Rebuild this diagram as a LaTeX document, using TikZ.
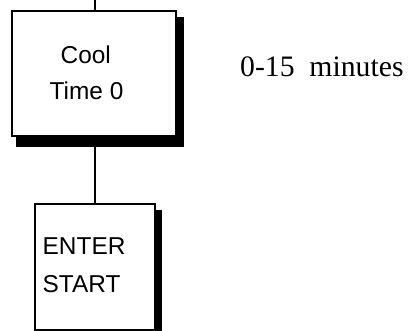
\documentclass[tikz,border=0pt]{standalone}
\usepackage{fontspec}
\setmainfont{Liberation Serif}
\newfontfamily\boxfont{Liberation Sans}
\begin{document}
\begin{tikzpicture}[x=1pt,y=-1pt,
  stepbox/.style={draw=black, line width=2pt, fill=white, rectangle, inner sep=0pt},
  shadowfill/.style={fill=black},
  wire/.style={draw=black, line width=2pt},
  boxtext/.style={font=\boxfont\fontsize{24.4}{36}\selectfont, inner sep=0pt, anchor=base west},
  note/.style={font=\fontsize{29.7}{36}\selectfont, inner sep=0pt, anchor=base west}]
  \useasboundingbox (0,0) rectangle (409,331);
  \clip (0,0) rectangle (409,331);

  % connectors
  \coordinate (in) at (95,-2);
  \coordinate (c1) at (95,73.5);
  \coordinate (c2) at (95,266);
  \draw[wire] (in) -- (c1) -- (c2);

  % Cool step with drop shadow
  \fill[shadowfill] (16,17) rectangle (183.5,147);
  \node[stepbox, minimum width=164pt, minimum height=125pt] (cool) at (94,73.5) {};
  \node[boxtext] (cooltxt) at (60.5,64) {Cool};
  \node[boxtext] (timetxt) at (49.5,100) {Time 0};

  % start step with drop shadow
  \fill[shadowfill] (38,210) rectangle (161.7,345);
  \node[stepbox, minimum width=120.5pt, minimum height=126.6pt, anchor=north west] (start) at (33.7,202.7) {};
  \node[boxtext] (entertxt) at (42.5,254) {ENTER};
  \node[boxtext] (starttxt) at (42.5,292) {START};

  % duration note
  \node[note] (dur) at (240,77) {0-15\hspace{0.5em}minutes};
\end{tikzpicture}
\end{document}
